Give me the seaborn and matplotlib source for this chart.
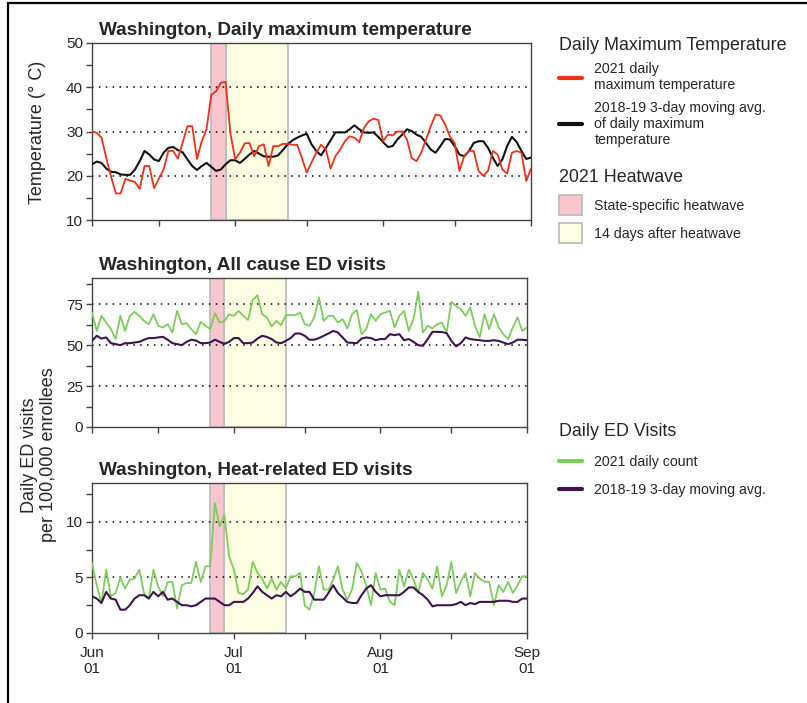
import pandas as pd
import matplotlib
matplotlib.use("Agg")
import matplotlib.pyplot as plt
import matplotlib.dates as mdates
from matplotlib.lines import Line2D
from matplotlib.patches import Patch, Rectangle
import seaborn as sns

dates = pd.date_range("2021-06-01", "2021-09-01", freq="D")

# daily maximum temperature, deg C
temp_2021 = [
    30.0, 29.7, 28.6, 24.0, 19.8, 16.0, 16.0, 19.3, 18.9, 18.6,
    17.0, 22.2, 22.2, 17.2, 19.3, 21.4, 25.6, 25.6, 23.9, 27.5,
    31.2, 31.2, 23.8, 27.8, 30.5, 38.3, 39.1, 41.0, 41.2, 29.7,
    23.7, 25.2, 27.3, 27.4, 24.4, 26.7, 27.1, 22.2, 26.7, 26.7,
    27.2, 27.2, 27.0, 27.0, 24.0, 20.7, 23.0, 25.2, 27.0, 26.0,
    21.6, 24.4, 25.9, 27.8, 28.9, 28.6, 27.6, 30.8, 32.3, 32.9,
    32.6, 27.8, 29.3, 29.1, 30.0, 30.0, 28.2, 24.0, 23.3, 25.2,
    28.2, 31.2, 33.8, 33.6, 31.6, 28.9, 27.4, 21.1, 24.4, 25.6,
    25.6, 21.1, 20.0, 21.1, 25.6, 24.8, 21.4, 20.5, 25.2, 25.6,
    25.2, 18.8, 21.6,
]
temp_base = [
    22.6, 23.2, 22.9, 21.6, 20.9, 20.8, 20.3, 20.2, 20.2, 21.4,
    23.3, 25.6, 24.8, 23.7, 23.3, 25.2, 26.3, 26.5, 25.8, 25.3,
    23.7, 22.2, 21.3, 22.2, 22.9, 22.0, 21.1, 21.4, 22.6, 23.5,
    23.5, 22.9, 23.8, 24.8, 25.6, 25.0, 24.4, 24.3, 24.3, 24.6,
    25.8, 27.1, 28.0, 28.6, 29.1, 29.5, 27.1, 25.6, 24.6, 26.3,
    28.0, 29.8, 29.8, 29.8, 30.5, 31.4, 30.5, 29.8, 29.7, 29.8,
    28.8, 27.6, 26.5, 26.7, 28.2, 29.3, 30.5, 30.1, 29.3, 28.8,
    27.4, 25.9, 25.2, 26.7, 28.3, 28.2, 26.7, 24.8, 24.4, 25.6,
    27.4, 27.8, 27.8, 26.3, 24.1, 22.2, 23.7, 26.7, 28.8, 27.6,
    25.6, 23.8, 24.1,
]

# ED visits per 100,000 enrollees
allcause_2021 = [
    69.9, 58.7, 67.9, 63.8, 59.8, 53.7, 67.9, 58.7, 67.9, 70.3,
    67.9, 64.8, 62.8, 68.9, 61.8, 60.8, 62.8, 57.7, 70.9, 62.8,
    63.4, 59.8, 56.7, 64.2, 61.8, 59.8, 69.5, 63.8, 64.8, 68.9,
    67.9, 70.9, 67.9, 65.4, 77.6, 80.5, 68.9, 66.9, 61.4, 64.8,
    62.2, 68.3, 68.3, 68.3, 69.9, 62.8, 61.8, 66.9, 79.1, 64.8,
    67.9, 67.9, 63.8, 65.9, 60.2, 68.9, 71.5, 56.7, 59.8, 68.9,
    64.8, 68.9, 69.9, 70.9, 60.8, 67.9, 70.9, 58.7, 65.9, 82.5,
    57.7, 61.8, 60.2, 62.8, 63.8, 57.7, 76.4, 74.0, 72.0, 67.9,
    73.0, 61.8, 54.7, 68.9, 59.8, 68.9, 60.8, 56.7, 53.7, 60.8,
    66.9, 58.7, 60.8,
]
allcause_base = [
    52.6, 55.7, 54.0, 54.7, 51.2, 50.6, 50.0, 51.2, 51.2, 51.6,
    52.0, 53.3, 54.3, 54.3, 54.7, 55.1, 53.3, 51.2, 50.6,
    50.0, 52.0, 53.3, 52.8, 51.2, 51.2, 51.6, 53.3, 52.0, 50.8,
    52.0, 54.3, 54.3, 51.2, 51.2, 51.6, 54.0, 55.7, 55.0,
    53.7, 51.6, 51.2, 52.6, 54.3, 57.1, 57.1, 55.7, 53.3, 53.3,
    54.3, 55.7, 57.1, 58.7, 57.7, 54.7, 51.6, 51.4,
    51.2, 54.0, 54.7, 54.3, 53.0, 53.7, 53.7, 56.7, 56.1, 56.7,
    53.0, 53.7, 52.0, 50.0, 49.6, 53.7, 58.1, 58.1, 58.0,
    57.3, 52.6, 49.2, 51.2, 54.7, 53.7, 53.3, 53.0, 52.6, 52.6,
    53.0, 52.6, 51.6, 50.6, 51.6, 53.3, 53.3, 53.0,
]
heat_2021 = [
    6.3, 4.3, 2.7, 5.7, 3.3, 3.6, 5.0, 4.0, 4.8, 4.9,
    5.7, 3.6, 3.1, 5.7, 4.2, 3.3, 4.6, 4.6, 2.2, 4.3,
    4.5, 4.5, 6.4, 4.6, 6.0, 6.0, 11.7, 9.6, 10.6, 6.9,
    5.7, 3.6, 3.5, 3.9, 6.4, 5.4, 4.9, 4.0, 4.9, 3.9,
    4.6, 4.0, 5.1, 5.1, 5.4, 2.5, 2.1, 3.6, 6.0, 3.9,
    3.9, 4.8, 6.0, 3.9, 3.0, 3.9, 6.3, 5.5, 4.3, 2.5,
    5.4, 3.9, 4.0, 2.8, 2.5, 5.7, 4.2, 5.7, 4.8, 3.6,
    5.4, 4.8, 4.0, 6.0, 3.3, 4.3, 6.4, 3.6, 4.6, 5.4,
    3.3, 5.4, 4.9, 4.6, 4.6, 2.5, 4.3, 3.7, 4.6, 3.6,
    4.3, 5.1, 5.1,
]
heat_base = [
    3.3, 3.1, 2.7, 3.7, 3.1, 3.0, 2.1, 2.1, 2.5, 3.1,
    3.4, 3.4, 3.1, 3.7, 3.3, 3.7, 3.0, 3.1, 2.8,
    2.5, 2.5, 2.4, 2.5, 2.8, 3.1, 3.1, 3.1, 2.8, 2.5,
    2.5, 2.8, 2.8, 2.8, 3.1, 3.6, 4.2, 3.7, 3.4,
    3.1, 3.4, 3.3, 3.7, 3.3, 3.6, 4.0, 3.7, 3.7, 3.0,
    3.0, 3.0, 3.6, 4.3, 3.6, 3.2, 2.8, 2.7,
    2.7, 3.4, 4.0, 4.3, 3.7, 3.3, 3.4, 3.4, 3.4, 3.4,
    3.7, 4.1, 4.1, 3.7, 3.4, 3.0, 2.4, 2.5, 2.5,
    2.5, 2.5, 2.6, 2.8, 2.5, 2.7, 2.6, 2.8, 2.8, 2.8,
    2.8, 2.9, 2.9, 2.9, 2.8, 2.8, 3.1, 3.1,
]

heatwave = ("2021-06-26", "2021-06-29")
after_heatwave = ("2021-06-29", "2021-07-12")

titles = [
    "Washington, Daily maximum temperature",
    "Washington, All cause ED visits",
    "Washington, Heat-related ED visits",
]

RED = "#ee3019"
BLACK = "#111111"
GREEN = "#7dcc5c"
PURPLE = "#3e1450"
PINK = "#f9c5cf"
YELLOW = "#fdfde2"
EDGE = "#bdbdbd"

df = pd.DataFrame({
    "date": dates,
    "temp_2021": temp_2021,
    "temp_base": temp_base,
    "allcause_2021": allcause_2021,
    "allcause_base": allcause_base,
    "heat_2021": heat_2021,
    "heat_base": heat_base,
})

sns.set_style("ticks")
plt.rcParams["font.family"] = ["Liberation Sans", "DejaVu Sans"]

W, H = 807, 703
fig = plt.figure(figsize=(W / 100, H / 100), dpi=100)


def px_axes(left, top, right, bottom):
    return fig.add_axes([left / W, 1 - bottom / H, (right - left) / W, (bottom - top) / H])


ax1 = px_axes(92, 43, 531, 220)
ax2 = px_axes(92, 278, 527, 427)
ax3 = px_axes(92, 483, 527, 633)


def style(ax, ylim, major, minor, grid, show_x):
    ax.axvspan(pd.Timestamp(after_heatwave[0]), pd.Timestamp(after_heatwave[1]),
               facecolor=YELLOW, edgecolor=EDGE, lw=1.3, zorder=0)
    ax.axvspan(pd.Timestamp(heatwave[0]), pd.Timestamp(heatwave[1]),
               facecolor=PINK, edgecolor=EDGE, lw=1.3, zorder=0)
    for g in grid:
        ax.axhline(g, color="black", lw=1.1, ls=(0, (1, 3.5)), zorder=1)
    ax.set_xlim(dates[0], dates[-1])
    ax.set_ylim(*ylim)
    ax.set_yticks(major)
    ax.set_yticks(minor, minor=True)
    ax.xaxis.set_major_locator(mdates.MonthLocator())
    ax.xaxis.set_major_formatter(mdates.DateFormatter("%b\n%d"))
    ax.set_xticks(mdates.date2num(pd.to_datetime(["2021-06-15", "2021-07-16", "2021-08-16"])),
                  minor=True)
    ax.tick_params(which="both", direction="out", length=4.5, width=1, color="#444444",
                   labelsize=11, pad=2)
    ax.tick_params(axis="x", pad=5)
    if not show_x:
        ax.tick_params(axis="x", labelbottom=False)
    for s in ax.spines.values():
        s.set_visible(True)
        s.set_color("#444444")
        s.set_linewidth(1)
    ax.set_xlabel("")
    ax.set_ylabel("")


sns.lineplot(data=df, x="date", y="temp_base", ax=ax1, color=BLACK, lw=1.5, zorder=3)
sns.lineplot(data=df, x="date", y="temp_2021", ax=ax1, color=RED, lw=1.3, zorder=4)
style(ax1, (10, 50), [10, 20, 30, 40, 50], [15, 25, 35, 45], [20, 30, 40], False)

sns.lineplot(data=df, x="date", y="allcause_2021", ax=ax2, color=GREEN, lw=1.3, zorder=3)
sns.lineplot(data=df, x="date", y="allcause_base", ax=ax2, color=PURPLE, lw=1.5, zorder=4)
style(ax2, (0, 91), [0, 25, 50, 75], [12.5, 37.5, 62.5, 87.5], [25, 50, 75], False)

sns.lineplot(data=df, x="date", y="heat_2021", ax=ax3, color=GREEN, lw=1.3, zorder=3)
sns.lineplot(data=df, x="date", y="heat_base", ax=ax3, color=PURPLE, lw=1.5, zorder=4)
style(ax3, (0, 13.5), [0, 5, 10], [2.5, 7.5, 12.5], [5, 10], True)
for lab in ax3.get_xticklabels():
    lab.set_linespacing(1.2)

for y, t in zip([35, 270, 475], titles):
    fig.text(99 / W, 1 - y / H, t, fontsize=13.7, fontweight="bold", va="baseline", ha="left")

fig.text(38 / W, 1 - 132 / H, "Temperature (\u00b0 C)", rotation=90, ha="center",
         va="center", fontsize=13)
fig.text(39 / W, 1 - 455 / H, "Daily ED visits\nper 100,000 enrollees", rotation=90,
         ha="center", va="center", fontsize=13, linespacing=1.15)

common = dict(loc="upper left", frameon=False, alignment="left", borderpad=0,
              borderaxespad=0, bbox_transform=fig.transFigure,
              prop={"size": 10.2}, title_fontproperties={"size": 12.9},
              handlelength=1.6, handletextpad=0.9)

leg1 = ax1.legend(
    handles=[Line2D([], [], color=RED, lw=3), Line2D([], [], color=BLACK, lw=3)],
    labels=["2021 daily\nmaximum temperature",
            "2018-19 3-day moving avg.\nof daily maximum\ntemperature"],
    title="Daily Maximum Temperature", bbox_to_anchor=(559 / W, 1 - 36.5 / H),
    labelspacing=0.6, **common)
ax1.add_artist(leg1)

leg2 = ax1.legend(
    handles=[Patch(facecolor=PINK, edgecolor=EDGE, lw=1.3),
             Patch(facecolor=YELLOW, edgecolor=EDGE, lw=1.3)],
    labels=["State-specific heatwave", "14 days after heatwave"],
    title="2021 Heatwave", bbox_to_anchor=(559 / W, 1 - 169.5 / H),
    handleheight=1.79, labelspacing=0.6, **common)

ax3.legend(
    handles=[Line2D([], [], color=GREEN, lw=3), Line2D([], [], color=PURPLE, lw=3)],
    labels=["2021 daily count", "2018-19 3-day moving avg."],
    title="Daily ED Visits", bbox_to_anchor=(559 / W, 1 - 423.5 / H),
    labelspacing=0.99, **common)

fig.add_artist(Rectangle((8 / W, -0.05), 1.0, 1.05 - 3 / H, transform=fig.transFigure,
                         fill=False, edgecolor="black", lw=1.6, clip_on=False))

fig.savefig("out.png", dpi=100)
